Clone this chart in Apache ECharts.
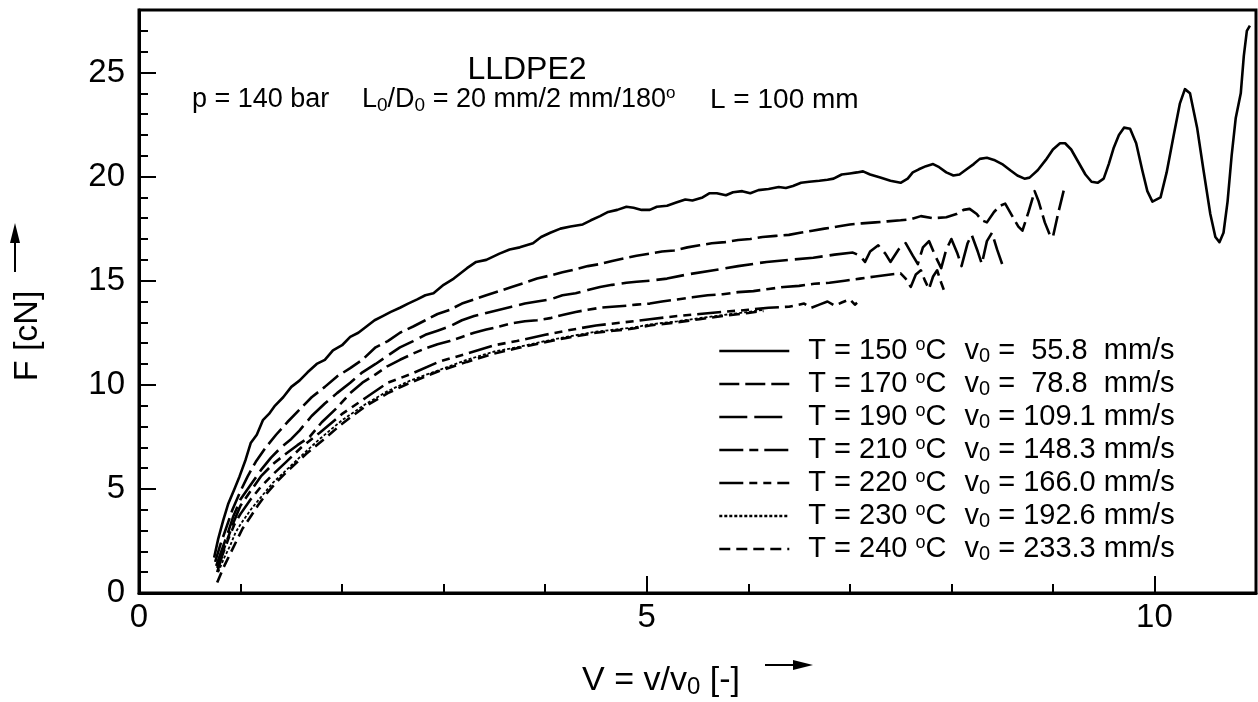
<!DOCTYPE html>
<html><head><meta charset="utf-8">
<script src="https://cdn.jsdelivr.net/npm/echarts@6/dist/echarts.min.js"></script>
<style>html,body{margin:0;padding:0;background:#fff}#c{width:1258px;height:702px}</style>
</head><body><div id="c"></div>
<script>
const temps = [150, 170, 190, 210, 220, 230, 240];
const v0Texts = ['=  55.8  mm/s', '=  78.8  mm/s', '= 109.1 mm/s', '= 148.3 mm/s', '= 166.0 mm/s', '= 192.6 mm/s', '= 233.3 mm/s'];
const xTickLabels = ['0', '5', '10'];
const yTickLabels = ['0', '5', '10', '15', '20', '25'];

const s150 = [[0.74,1.7],[0.78,2.6],[0.83,3.5],[0.88,4.3],[0.94,5.0],[0.99,5.6],[1.05,6.4],[1.1,7.2],[1.16,7.6],[1.22,8.3],[1.28,8.6],[1.34,9.0],[1.42,9.4],[1.5,9.9],[1.58,10.2],[1.66,10.6],[1.75,11.0],[1.83,11.2],[1.91,11.65],[2.0,11.9],[2.08,12.3],[2.16,12.5],[2.24,12.8],[2.32,13.1],[2.4,13.3],[2.48,13.5],[2.57,13.7],[2.65,13.9],[2.74,14.1],[2.82,14.3],[2.9,14.4],[3.0,14.8],[3.1,15.1],[3.23,15.6],[3.32,15.9],[3.42,16.0],[3.55,16.3],[3.65,16.5],[3.75,16.6],[3.88,16.8],[3.96,17.1],[4.05,17.3],[4.15,17.5],[4.25,17.6],[4.37,17.7],[4.45,17.9],[4.54,18.1],[4.62,18.3],[4.71,18.4],[4.8,18.55],[4.87,18.5],[4.95,18.4],[5.03,18.4],[5.1,18.55],[5.2,18.6],[5.29,18.75],[5.38,18.9],[5.45,18.85],[5.55,19.0],[5.62,19.2],[5.69,19.2],[5.78,19.1],[5.85,19.25],[5.94,19.3],[6.02,19.2],[6.1,19.35],[6.2,19.4],[6.3,19.5],[6.37,19.45],[6.44,19.55],[6.52,19.7],[6.6,19.75],[6.7,19.8],[6.78,19.85],[6.84,19.9],[6.92,20.1],[7.0,20.15],[7.07,20.2],[7.13,20.25],[7.2,20.1],[7.3,19.95],[7.4,19.8],[7.5,19.7],[7.57,19.9],[7.62,20.2],[7.68,20.35],[7.75,20.5],[7.82,20.6],[7.88,20.45],[7.95,20.2],[8.02,20.05],[8.08,20.1],[8.15,20.35],[8.22,20.6],[8.28,20.85],[8.35,20.9],[8.42,20.8],[8.5,20.6],[8.58,20.3],[8.65,20.05],[8.72,19.9],[8.77,19.95],[8.85,20.3],[8.93,20.8],[9.0,21.3],[9.07,21.6],[9.12,21.6],[9.18,21.3],[9.25,20.7],[9.32,20.1],[9.38,19.75],[9.44,19.7],[9.5,19.9],[9.55,20.6],[9.6,21.4],[9.65,22.0],[9.7,22.35],[9.76,22.3],[9.82,21.6],[9.88,20.3],[9.93,19.3],[9.98,18.8],[10.06,19.0],[10.12,20.2],[10.19,22.0],[10.25,23.5],[10.3,24.2],[10.35,24.0],[10.42,22.35],[10.48,20.4],[10.55,18.2],[10.6,17.1],[10.64,16.85],[10.68,17.3],[10.72,18.8],[10.76,21.0],[10.8,22.8],[10.85,24.0],[10.88,25.8],[10.91,27.0],[10.94,27.25]];

const s170 = [[0.75,1.5],[0.8,2.3],[0.85,3.0],[0.92,4.0],[1.0,4.9],[1.07,5.6],[1.15,6.3],[1.25,7.0],[1.35,7.6],[1.46,8.2],[1.58,8.8],[1.7,9.4],[1.83,9.9],[1.95,10.4],[2.08,10.8],[2.2,11.2],[2.33,11.8],[2.45,12.1],[2.57,12.5],[2.7,12.8],[2.82,13.1],[2.94,13.4],[3.06,13.6],[3.18,13.9],[3.3,14.1],[3.42,14.3],[3.55,14.5],[3.67,14.7],[3.8,14.9],[3.92,15.1],[4.05,15.25],[4.17,15.4],[4.3,15.55],[4.42,15.7],[4.54,15.8],[4.66,15.95],[4.8,16.1],[4.9,16.2],[5.03,16.3],[5.15,16.4],[5.27,16.45],[5.4,16.6],[5.52,16.7],[5.64,16.8],[5.77,16.85],[5.9,16.95],[6.02,17.0],[6.14,17.1],[6.27,17.15],[6.4,17.2],[6.51,17.3],[6.63,17.4],[6.75,17.5],[6.88,17.6],[7.0,17.7],[7.12,17.75],[7.25,17.8],[7.37,17.85],[7.5,17.9],[7.6,17.95],[7.7,18.1],[7.82,18.0],[7.95,18.05],[8.05,18.2],[8.12,18.4],[8.18,18.45],[8.25,18.2],[8.3,17.9],[8.35,17.8],[8.42,18.3],[8.48,18.6],[8.53,18.7],[8.6,18.1],[8.66,17.6],[8.7,17.4],[8.76,18.3],[8.82,19.3],[8.86,18.8],[8.92,17.8],[8.97,17.2],[9.0,17.1],[9.05,18.2],[9.12,19.6]];

const s190 = [[0.76,1.3],[0.81,2.0],[0.87,2.8],[0.93,3.7],[1.0,4.5],[1.1,5.2],[1.2,5.9],[1.3,6.5],[1.4,7.0],[1.5,7.4],[1.58,7.8],[1.7,8.5],[1.83,9.1],[1.95,9.6],[2.08,10.1],[2.2,10.6],[2.33,11.0],[2.45,11.4],[2.57,11.8],[2.7,12.1],[2.82,12.4],[2.94,12.6],[3.06,12.8],[3.18,13.1],[3.3,13.3],[3.42,13.45],[3.55,13.6],[3.67,13.75],[3.8,13.9],[3.92,14.0],[4.05,14.1],[4.17,14.3],[4.3,14.4],[4.42,14.55],[4.54,14.7],[4.66,14.8],[4.8,14.9],[4.9,14.95],[5.03,15.0],[5.2,15.1],[5.4,15.3],[5.66,15.5],[5.9,15.7],[6.18,15.9],[6.4,16.0],[6.64,16.1],[6.85,16.25],[7.03,16.35],[7.1,16.2],[7.15,15.9],[7.2,16.4],[7.28,16.7],[7.35,16.3],[7.4,15.9],[7.48,16.5],[7.55,16.8],[7.62,16.2],[7.67,15.8],[7.72,16.6],[7.78,16.9],[7.85,16.1],[7.9,15.6],[7.95,16.5],[8.0,17.0],[8.06,16.3],[8.1,15.7],[8.16,16.8],[8.2,17.2],[8.26,16.4],[8.3,15.8],[8.35,16.9],[8.4,17.3],[8.45,16.5],[8.5,15.8]];

const s210 = [[0.77,1.2],[0.82,1.9],[0.88,2.7],[0.94,3.5],[1.0,4.2],[1.1,4.9],[1.2,5.6],[1.32,6.2],[1.45,6.7],[1.56,7.1],[1.68,7.5],[1.8,8.2],[1.95,8.9],[2.08,9.6],[2.2,10.1],[2.33,10.5],[2.45,10.9],[2.57,11.2],[2.7,11.5],[2.82,11.75],[2.94,11.95],[3.06,12.1],[3.18,12.3],[3.3,12.5],[3.42,12.65],[3.55,12.8],[3.67,12.95],[3.8,13.05],[3.92,13.1],[4.05,13.2],[4.17,13.35],[4.3,13.5],[4.42,13.6],[4.54,13.7],[4.66,13.75],[4.8,13.8],[4.9,13.85],[5.03,13.9],[5.15,14.0],[5.3,14.1],[5.45,14.2],[5.6,14.3],[5.75,14.35],[5.9,14.45],[6.05,14.5],[6.2,14.6],[6.35,14.7],[6.5,14.75],[6.65,14.85],[6.8,14.9],[6.95,15.0],[7.1,15.1],[7.25,15.2],[7.4,15.3],[7.5,15.35],[7.55,15.1],[7.6,14.7],[7.65,15.3],[7.7,15.5],[7.74,15.0],[7.78,14.6],[7.82,15.2],[7.86,15.5],[7.9,14.9],[7.93,14.5]];

const s220 = [[0.77,1.0],[0.82,1.8],[0.88,2.6],[0.94,3.3],[1.0,3.8],[1.1,4.5],[1.2,5.1],[1.32,5.7],[1.45,6.3],[1.6,7.0],[1.78,7.7],[2.0,8.6],[2.24,9.4],[2.45,10.1],[2.67,10.5],[2.95,11.1],[3.23,11.5],[3.5,11.9],[3.72,12.1],[4.0,12.4],[4.21,12.6],[4.5,12.85],[4.87,13.05],[5.03,13.15],[5.3,13.3],[5.52,13.4],[5.75,13.5],[6.0,13.6],[6.2,13.7],[6.4,13.75],[6.55,13.9],[6.62,13.7],[6.7,13.85],[6.78,14.0],[6.85,13.8],[6.92,13.95],[7.0,14.1],[7.05,13.85],[7.1,14.05]];

const s230 = [[0.78,1.0],[0.84,1.7],[0.9,2.3],[0.95,2.9],[1.0,3.3],[1.1,4.0],[1.2,4.6],[1.32,5.3],[1.45,5.9],[1.6,6.6],[1.78,7.4],[2.0,8.3],[2.24,9.1],[2.45,9.7],[2.67,10.2],[2.95,10.7],[3.23,11.2],[3.5,11.6],[3.72,11.8],[4.0,12.1],[4.21,12.3],[4.5,12.55],[4.87,12.75],[5.03,12.9],[5.3,13.05],[5.52,13.2],[5.75,13.35],[6.0,13.5],[6.15,13.6]];

const s240 = [[0.77,0.5],[0.83,1.2],[0.9,1.9],[0.96,2.5],[1.02,3.1],[1.09,3.6],[1.17,4.2],[1.26,4.8],[1.35,5.3],[1.45,5.8],[1.55,6.25],[1.65,6.7],[1.75,7.1],[1.85,7.5],[1.98,8.05],[2.1,8.5],[2.24,9.0],[2.45,9.6],[2.67,10.1],[2.95,10.65],[3.23,11.1],[3.5,11.5],[3.72,11.75],[4.0,12.05],[4.21,12.25],[4.5,12.5],[4.87,12.7],[5.03,12.85],[5.3,13.0],[5.52,13.15],[5.75,13.3],[6.0,13.45],[6.15,13.55]];

const seriesData = [s150, s170, s190, s210, s220, s230, s240];
const dashes = ['solid', [20, 6], [28, 7], [24, 6, 9, 6], [24, 6, 8, 6, 8, 6], [3, 2], [11, 6]];
const widths = [2.6, 2.6, 2.6, 2.6, 2.6, 1.8, 2.6];

const FONT = 'Liberation Sans, Arial, Helvetica, sans-serif';
const names = temps.map(t => 'T = ' + t + ' oC');

const chart = echarts.init(document.getElementById('c'), null, {renderer: 'canvas'});
const option = {
  animation: false,
  backgroundColor: '#fff',
  grid: {left: 139, right: 2, top: 10, bottom: 109, show: true, borderColor: '#000', borderWidth: 3, containLabel: false},
  xAxis: {
    type: 'value', min: 0, max: 11, interval: 5,
    axisLine: {show: true, lineStyle: {color: '#000', width: 3}},
    axisTick: {show: true, inside: true, length: 17, lineStyle: {color: '#000', width: 2}},
    minorTick: {show: true, splitNumber: 5, length: 9, lineStyle: {color: '#000', width: 2}},
    splitLine: {show: false},
    axisLabel: {
      margin: 8, color: '#000', fontFamily: FONT, fontSize: 33, showMaxLabel: false,
      formatter: v => (xTickLabels.indexOf(String(v)) >= 0 ? String(v) : '')
    }
  },
  yAxis: {
    type: 'value', min: 0, max: 28, interval: 5,
    axisLine: {show: true, lineStyle: {color: '#000', width: 3}},
    axisTick: {show: true, inside: true, length: 17, lineStyle: {color: '#000', width: 2}},
    minorTick: {show: true, splitNumber: 5, length: 9, lineStyle: {color: '#000', width: 2}},
    splitLine: {show: false},
    axisLabel: {
      margin: 14, color: '#000', fontFamily: FONT, fontSize: 33, showMaxLabel: false,
      formatter: v => (yTickLabels.indexOf(String(v)) >= 0 ? String(v) : '')
    }
  },
  legend: {
    orient: 'vertical', left: 718, top: 336, padding: 0, itemGap: 3,
    itemWidth: 70, itemHeight: 14,
    data: names,
    itemStyle: {color: 'rgba(0,0,0,0)', borderColor: 'rgba(0,0,0,0)', borderWidth: 0, opacity: 0},
    lineStyle: {color: '#000', width: 2.6},
    textStyle: {
      color: '#000', fontFamily: FONT, fontSize: 29,
      rich: {
        g: {fontSize: 29, width: 14, lineHeight: 30, fontFamily: FONT},
        t: {fontSize: 29, lineHeight: 30, fontFamily: FONT, color: '#000'},
        o: {fontSize: 18, lineHeight: 16, verticalAlign: 'top', fontFamily: FONT, color: '#000'},
        h: {fontSize: 29, width: 18, lineHeight: 30, fontFamily: FONT},
        s: {fontSize: 20, lineHeight: 14, verticalAlign: 'bottom', fontFamily: FONT, color: '#000'}
      }
    },
    formatter: function (name) {
      const i = names.indexOf(name);
      return '{g| }{t|T = ' + temps[i] + ' }{o|o}{t|C}{h| }{t|v}{s|0}{t| ' + v0Texts[i] + '}';
    },
    selectedMode: false
  },
  graphic: [
    {type: 'text', x: 527, y: 70, style: {text: 'LLDPE2', fontFamily: FONT, fontSize: 32, fill: '#000', align: 'center', verticalAlign: 'middle'}},
    {type: 'text', x: 192, y: 100, style: {text: 'p = 140 bar', fontFamily: FONT, fontSize: 27, fill: '#000', align: 'left', verticalAlign: 'middle'}},
    {type: 'text', x: 362, y: 100, style: {
      text: '{a|L}{s|0}{a|/D}{s|0}{a| = 20 mm/2 mm/180}{o|o}', align: 'left', verticalAlign: 'middle',
      rich: {
        a: {fontFamily: FONT, fontSize: 27, lineHeight: 30, fill: '#000'},
        s: {fontFamily: FONT, fontSize: 19, lineHeight: 14, verticalAlign: 'bottom', fill: '#000'},
        o: {fontFamily: FONT, fontSize: 17, lineHeight: 16, verticalAlign: 'top', fill: '#000'}
      }}},
    {type: 'text', x: 710, y: 100, style: {text: 'L = 100 mm', fontFamily: FONT, fontSize: 28, fill: '#000', align: 'left', verticalAlign: 'middle'}},
    {type: 'text', x: 661, y: 681, style: {
      text: '{a|V = v/v}{s|0}{a| [-]}', align: 'center', verticalAlign: 'middle',
      rich: {
        a: {fontFamily: FONT, fontSize: 34, lineHeight: 36, fill: '#000'},
        s: {fontFamily: FONT, fontSize: 24, lineHeight: 16, verticalAlign: 'bottom', fill: '#000'}
      }}},
    {type: 'text', x: 28, y: 336, rotation: Math.PI / 2, style: {text: 'F [cN]', fontFamily: FONT, fontSize: 34, fill: '#000', align: 'center', verticalAlign: 'middle'}},
    {type: 'line', shape: {x1: 15, y1: 272, x2: 15, y2: 240}, style: {stroke: '#000', lineWidth: 2}},
    {type: 'polygon', shape: {points: [[10, 243], [20, 243], [15, 223]]}, style: {fill: '#000'}},
    {type: 'line', shape: {x1: 765, y1: 665, x2: 795, y2: 665}, style: {stroke: '#000', lineWidth: 2}},
    {type: 'polygon', shape: {points: [[793, 660], [793, 670], [813, 665]]}, style: {fill: '#000'}}
  ],
  series: seriesData.map((d, i) => ({
    name: names[i], type: 'line', data: d, symbol: 'none', showSymbol: false,
    lineStyle: {color: '#000', width: widths[i], type: dashes[i], cap: 'butt', join: 'round'},
    itemStyle: {color: '#000'},
    emphasis: {disabled: true}, silent: true, z: 3
  }))
};
chart.setOption(option);
</script></body></html>
